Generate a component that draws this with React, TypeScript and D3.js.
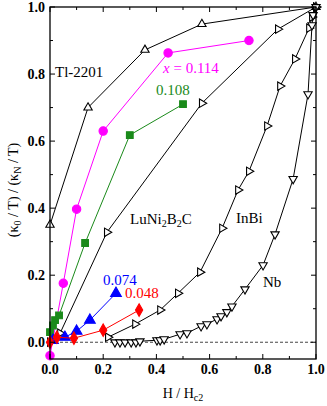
import React from "react";
import * as d3 from "d3";

const W = 327, H = 406;

// Data
const tlX = [0, 0.143, 0.357, 0.571, 1.0];
const tlY = [0.35, 0.70, 0.872, 0.949, 1.0];

const luX = [0, 0.038, 0.214, 0.571, 0.857, 1.0];
const luY = [0.0, 0.027, 0.328, 0.713, 0.934, 1.0];

const inX = [0.218, 0.32, 0.414, 0.481, 0.564, 0.647, 0.707, 0.748, 0.816, 0.865, 0.921, 0.974, 0.985, 1.0];
const inY = [0.015, 0.054, 0.096, 0.146, 0.209, 0.34, 0.454, 0.51, 0.645, 0.764, 0.845, 0.937, 0.97, 1.0];

const nbX = [0.244, 0.263, 0.282, 0.305, 0.323, 0.338, 0.402, 0.414, 0.429, 0.489, 0.515, 0.568, 0.59, 0.628, 0.643, 0.665, 0.684, 0.733, 0.801, 0.846, 0.914, 0.97, 0.985, 0.989, 1.0];
const nbY = [0.0, 0.0, 0.0, 0.0, 0.0, 0.003, 0.006, 0.006, 0.009, 0.024, 0.027, 0.048, 0.054, 0.069, 0.078, 0.09, 0.107, 0.158, 0.23, 0.322, 0.487, 0.74, 0.946, 0.976, 1.0];

const m114X = [0, 0.05, 0.1, 0.2, 0.444, 0.748];
const m114Y = [-0.04, 0.176, 0.397, 0.63, 0.863, 0.9];

const g108X = [0, 0.011, 0.019, 0.034, 0.132, 0.30, 0.5];
const g108Y = [0.03, 0.05, 0.066, 0.08, 0.296, 0.618, 0.71];

const b074X = [0.011, 0.056, 0.1, 0.15, 0.248];
const b074Y = [0.006, 0.015, 0.033, 0.066, 0.146];

const r048X = [0, 0.026, 0.09, 0.2, 0.335];
const r048Y = [0.0, 0.015, 0.012, 0.036, 0.096];

const xTicks = [0, 0.2, 0.4, 0.6, 0.8, 1.0];
const yTicks = [0, 0.2, 0.4, 0.6, 0.8, 1.0];
const minorTicks = [0.1, 0.3, 0.5, 0.7, 0.9];

const x = d3.scaleLinear().domain([0, 1]).range([50, 316]);
const y = d3.scaleLinear().domain([-0.05, 1]).range([359, 7]);

const zip = (a: number[], b: number[]) => a.map((v, i) => [v, b[i]] as [number, number]);
const line = d3.line<[number, number]>().x(d => x(d[0])).y(d => y(d[1]));

const FONT = '"Liberation Serif", "Times New Roman", Times, serif';

function Series({ pts, color, symbol, size, fill, rotate = 0, strokeW = 1 }: any) {
  const path = d3.symbol().type(symbol).size(size)() as string;
  return (
    <g>
      <path d={line(pts) as string} fill="none" stroke={color} strokeWidth={strokeW} />
      {pts.map((p: [number, number], i: number) => (
        <path key={i} d={path} transform={`translate(${x(p[0])},${y(p[1])}) rotate(${rotate})`}
          fill={fill} stroke={color} strokeWidth={1.1} />
      ))}
    </g>
  );
}

export default function App() {
  const fmt = d3.format(".1f");
  return (
    <svg width={W} height={H} style={{ position: "absolute", left: 0, top: 0, background: "#fff", fontFamily: FONT }}>
      {/* dashed zero line */}
      <line x1={x(0)} x2={x(1)} y1={y(0)} y2={y(0)} stroke="#444" strokeDasharray="3,2" strokeWidth={1} />

      <Series pts={zip(tlX, tlY)} color="#000" symbol={d3.symbolTriangle} size={30} fill="#fff" />
      <Series pts={zip(luX, luY)} color="#000" symbol={d3.symbolTriangle} size={30} fill="#fff" rotate={90} />
      <Series pts={zip(inX, inY)} color="#000" symbol={d3.symbolTriangle} size={30} fill="#fff" rotate={90} />
      <Series pts={zip(nbX, nbY)} color="#000" symbol={d3.symbolTriangle} size={30} fill="#fff" rotate={180} />
      <Series pts={zip(m114X, m114Y)} color="#ff00ff" symbol={d3.symbolCircle} size={55} fill="#ff00ff" />
      <Series pts={zip(g108X, g108Y)} color="#1a8a1a" symbol={d3.symbolSquare} size={45} fill="#1a8a1a" />
      <Series pts={zip(b074X, b074Y)} color="#0000ff" symbol={d3.symbolTriangle} size={50} fill="#0000ff" />
      <Series pts={zip(r048X, r048Y)} color="#ff0000" symbol={d3.symbolDiamond} size={45} fill="#ff0000" />

      {/* frame */}
      <rect x={x(0)} y={y(1)} width={x(1) - x(0)} height={y(-0.05) - y(1)} fill="none" stroke="#000" strokeWidth={1.3} />

      {/* ticks */}
      {xTicks.map(t => (
        <g key={"xt" + t}>
          <line x1={x(t)} x2={x(t)} y1={y(-0.05)} y2={y(-0.05) - 5} stroke="#000" />
          <line x1={x(t)} x2={x(t)} y1={y(1)} y2={y(1) + 5} stroke="#000" />
          <text x={x(t)} y={374} textAnchor="middle" fontSize={14} fontWeight="bold" fontFamily={FONT}>{fmt(t)}</text>
        </g>
      ))}
      {minorTicks.map(t => (
        <g key={"xm" + t}>
          <line x1={x(t)} x2={x(t)} y1={y(-0.05)} y2={y(-0.05) - 3} stroke="#000" />
          <line x1={x(t)} x2={x(t)} y1={y(1)} y2={y(1) + 3} stroke="#000" />
          <line x1={x(0)} x2={x(0) + 3} y1={y(t)} y2={y(t)} stroke="#000" />
          <line x1={x(1)} x2={x(1) - 3} y1={y(t)} y2={y(t)} stroke="#000" />
        </g>
      ))}
      {yTicks.map(t => (
        <g key={"yt" + t}>
          <line x1={x(0)} x2={x(0) + 5} y1={y(t)} y2={y(t)} stroke="#000" />
          <line x1={x(1)} x2={x(1) - 5} y1={y(t)} y2={y(t)} stroke="#000" />
          <text x={45} y={y(t) + 5} textAnchor="end" fontSize={14} fontWeight="bold" fontFamily={FONT}>{fmt(t)}</text>
        </g>
      ))}

      {/* axis titles */}
      <text x={183} y={398} textAnchor="middle" fontSize={14} fontFamily={FONT}>
        H / H<tspan fontSize={10} dy={3}>c2</tspan>
      </text>
      <text transform="translate(18,190) rotate(-90)" textAnchor="middle" fontSize={14} fontFamily={FONT}>
        (κ<tspan fontSize={10} dy={3}>0</tspan><tspan dy={-3}> / T) / (κ</tspan><tspan fontSize={10} dy={3}>N</tspan><tspan dy={-3}> / T)</tspan>
      </text>

      {/* labels */}
      <text x={55} y={77} fontSize={15} fontFamily={FONT}>Tl-2201</text>
      <text x={163} y={73} fontSize={15} fill="#ff00ff" fontFamily={FONT}><tspan fontStyle="italic">x</tspan> = 0.114</text>
      <text x={156} y={95} fontSize={15} fill="#1a8a1a" fontFamily={FONT}>0.108</text>
      <text x={130} y={224} fontSize={15} fontFamily={FONT}>LuNi<tspan fontSize={10} dy={3}>2</tspan><tspan dy={-3}>B</tspan><tspan fontSize={10} dy={3}>2</tspan><tspan dy={-3}>C</tspan></text>
      <text x={236} y={223} fontSize={15} fontFamily={FONT}>InBi</text>
      <text x={263} y={287} fontSize={15} fontFamily={FONT}>Nb</text>
      <text x={103} y={285} fontSize={15} fill="#0000ff" fontFamily={FONT}>0.074</text>
      <text x={125} y={298} fontSize={15} fill="#ff0000" fontFamily={FONT}>0.048</text>
    </svg>
  );
}
